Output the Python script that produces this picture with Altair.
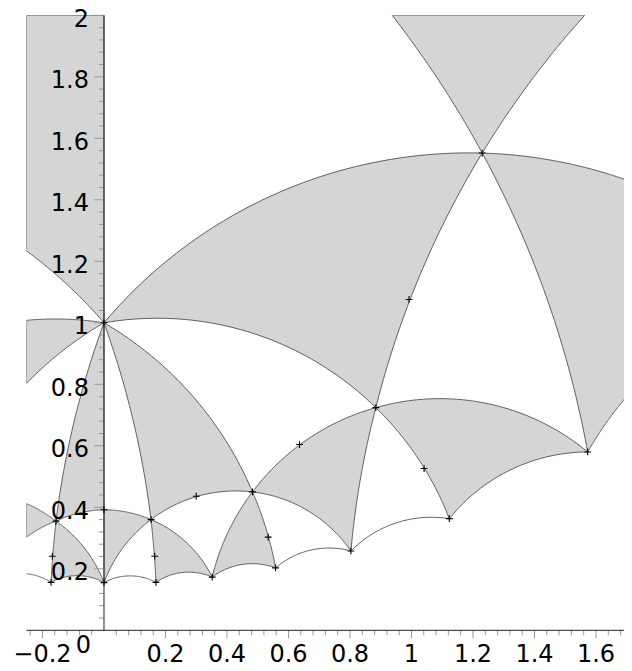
import altair as alt
import numpy as np
import pandas as pd

# ---- view ----
XMIN, XMAX = -0.252, 1.6911
YMIN, YMAX = 0.0, 2.0
PX = 307.5  # pixels per unit (same on both axes)

# ---- vertices of the tessellation ----
vertex_names = ["A", "B", "C", "D", "E", "F", "G", "H", "I", "J", "K", "L", "M", "N", "Q"]
vertex_x = [0.0, 1.230, 0.884, 1.573, 0.483, 0.803, 1.123, 0.558, 0.352, 0.153, 0.0, 0.169, -0.172, -0.156, 0.0]
vertex_y = [1.0, 1.552, 0.724, 0.580, 0.450, 0.258, 0.363, 0.203, 0.173, 0.360, 0.155, 0.156, 0.156, 0.355, 0.392]

# points where edges leave the frame
frame_names = ["L1", "L2", "L3", "L4", "L5", "L6", "TL", "T1", "T2", "TR0", "R1", "R2"]
frame_x = [-0.252, -0.252, -0.252, -0.252, -0.252, -0.252, -0.252, 0.937, 1.563, 0.0, 1.717, 1.717]
frame_y = [1.234, 1.008, 0.803, 0.412, 0.303, 0.184, 2.0, 2.0, 2.0, 2.0, 1.458, 0.780]

# gray tiles: vertex sequence, edge kind to the next vertex ("g" geodesic, "s" straight frame edge)
tile_vertices = [
    ["TL", "TR0", "A", "L1"],
    ["L2", "A", "L3"],
    ["A", "N", "Q"],
    ["L4", "N", "L5"],
    ["N", "M", "K"],
    ["Q", "J", "K"],
    ["A", "J", "E"],
    ["J", "L", "I"],
    ["E", "I", "H"],
    ["E", "F", "C"],
    ["A", "B", "C"],
    ["C", "G", "D"],
    ["B", "R1", "R2", "D"],
    ["B", "T1", "T2"],
]
tile_edges = [
    ["s", "g", "g", "s"],
    ["g", "g", "s"],
    ["g", "g", "g"],
    ["g", "g", "s"],
    ["g", "g", "g"],
    ["g", "g", "g"],
    ["g", "g", "g"],
    ["g", "g", "g"],
    ["g", "g", "g"],
    ["g", "g", "g"],
    ["g", "g", "g"],
    ["g", "g", "g"],
    ["g", "s", "g", "g"],
    ["g", "s", "g"],
]
# edges lying between two white tiles
white_edges = [["M", "L6"], ["K", "L"], ["H", "F"], ["F", "G"]]

# marked points
mark_x = [0.0, 1.230, 0.884, 1.573, 0.483, 0.803, 1.123, 0.558, 0.352, 0.153, 0.0, 0.169, -0.172, -0.156,
          0.0, 0.992, 0.636, 1.041, 0.534, 0.300, 0.165, -0.168]
mark_y = [1.0, 1.552, 0.724, 0.580, 0.450, 0.258, 0.363, 0.203, 0.173, 0.360, 0.155, 0.156, 0.156, 0.355,
          0.392, 1.076, 0.604, 0.526, 0.303, 0.436, 0.241, 0.241]

# axes
y_tick_values = [0.2, 0.4, 0.6, 0.8, 1.0, 1.2, 1.4, 1.6, 1.8, 2.0]
y_tick_labels = ["0.2", "0.4", "0.6", "0.8", "1", "1.2", "1.4", "1.6", "1.8", "2"]
x_tick_values = [-0.2, 0.2, 0.4, 0.6, 0.8, 1.0, 1.2, 1.4, 1.6]
x_tick_labels = ["\u22120.2", "0.2", "0.4", "0.6", "0.8", "1", "1.2", "1.4", "1.6"]
y_minor = [round(0.04 * k, 2) for k in range(1, 51)]
x_minor = [round(0.04 * k, 2) for k in range(-6, 43)]

# ---- geometry helpers ----
pts = {n: (x, y) for n, x, y in zip(vertex_names, vertex_x, vertex_y)}
pts.update({n: (x, y) for n, x, y in zip(frame_names, frame_x, frame_y)})


def edge_points(p, q, kind, n=48):
    (x1, y1), (x2, y2) = pts[p], pts[q]
    if kind == "s" or abs(x1 - x2) < 1e-9:
        return [(x1, y1), (x2, y2)]
    c = (x2 ** 2 + y2 ** 2 - x1 ** 2 - y1 ** 2) / (2 * (x2 - x1))
    r = np.hypot(x1 - c, y1)
    t1, t2 = np.arctan2(y1, x1 - c), np.arctan2(y2, x2 - c)
    t = np.linspace(t1, t2, n)
    return list(zip(c + r * np.cos(t), r * np.sin(t)))


rows = []
for k, (vs, es) in enumerate(zip(tile_vertices, tile_edges)):
    seq = []
    for i, v in enumerate(vs):
        seg = edge_points(v, vs[(i + 1) % len(vs)], es[i])
        seq.extend(seg if not seq else seg[1:])
    for i, (x, y) in enumerate(seq):
        rows.append({"tile": k, "i": i, "x": float(x), "y": float(y)})
tiles = pd.DataFrame(rows)

rows = []
for k, (p, q) in enumerate(white_edges):
    for i, (x, y) in enumerate(edge_points(p, q, "g")):
        rows.append({"edge": k, "i": i, "x": float(x), "y": float(y)})
wedges = pd.DataFrame(rows)

marks = pd.DataFrame({"x": mark_x, "y": mark_y})


def is_major(v):
    return abs(v / 0.2 - round(v / 0.2)) < 1e-6


ylab = pd.DataFrame({"v": y_tick_values, "t": y_tick_labels, "z": 0.0})
xlab = pd.DataFrame({"v": x_tick_values, "t": x_tick_labels, "z": 0.0})
ymin_df = pd.DataFrame({"v": [v for v in y_minor if not is_major(v)]})
ymin_df["z"] = 0.0
xmin_df = pd.DataFrame({"v": [v for v in x_minor if not is_major(v)]})
xmin_df["z"] = 0.0
yaxis_df = pd.DataFrame({"x": [0.0], "y": [YMIN], "y2": [YMAX]})
xaxis_df = pd.DataFrame({"y": [0.0], "x": [XMIN], "x2": [XMAX]})
zero_df = pd.DataFrame({"x": [0.0], "y": [0.0], "t": ["0"]})

xs = alt.Scale(domain=[XMIN, XMAX], nice=False, zero=False)
ys = alt.Scale(domain=[YMIN, YMAX], nice=False, zero=False)
FONT = "DejaVu Sans"
FS = 24
X = lambda f: alt.X(f, type="quantitative", scale=xs, axis=None)
Y = lambda f: alt.Y(f, type="quantitative", scale=ys, axis=None)

tile_layer = alt.Chart(tiles).mark_line(
    fill="#d5d5d5", stroke="#5e5e5e", strokeWidth=1, clip=True, strokeJoin="round"
).encode(x=X("x"), y=Y("y"), detail="tile:N", order="i:Q")

edge_layer = alt.Chart(wedges).mark_line(stroke="#5e5e5e", strokeWidth=1, clip=True).encode(
    x=X("x"), y=Y("y"), detail="edge:N", order="i:Q"
)

mark_layer = alt.Chart(marks).mark_point(
    shape="M-1,0L1,0M0,-1L0,1", size=46, color="black", strokeWidth=1.1, opacity=1, filled=False
).encode(x=X("x"), y=Y("y"))

yaxis_line = alt.Chart(yaxis_df).mark_rule(color="#222222", strokeWidth=1).encode(
    x=X("x"), y=Y("y"), y2="y2:Q"
)
xaxis_line = alt.Chart(xaxis_df).mark_rule(color="#222222", strokeWidth=1).encode(
    y=Y("y"), x=X("x"), x2="x2:Q"
)

y_minor_ticks = alt.Chart(ymin_df).mark_rule(color="#999999", strokeWidth=1, x2Offset=-5).encode(
    x=X("z"), x2="z:Q", y=Y("v")
)
y_major_ticks = alt.Chart(ylab).mark_rule(color="#999999", strokeWidth=1, x2Offset=-10).encode(
    x=X("z"), x2="z:Q", y=Y("v")
)
x_minor_ticks = alt.Chart(xmin_df).mark_rule(color="#999999", strokeWidth=1, y2Offset=5).encode(
    y=Y("z"), y2="z:Q", x=X("v")
)
x_major_ticks = alt.Chart(xlab).mark_rule(color="#999999", strokeWidth=1, y2Offset=8).encode(
    y=Y("z"), y2="z:Q", x=X("v")
)

y_labels = alt.Chart(ylab).mark_text(
    align="right", baseline="alphabetic", dx=-15, dy=11.5, font=FONT, fontSize=FS, color="black"
).encode(x=X("z"), y=Y("v"), text="t:N")
x_labels = alt.Chart(xlab).mark_text(
    align="center", baseline="alphabetic", dy=31.5, font=FONT, fontSize=FS, color="black"
).encode(y=Y("z"), x=X("v"), text="t:N")
zero_label = alt.Chart(zero_df).mark_text(
    align="center", baseline="alphabetic", dx=-20.5, dy=23, font=FONT, fontSize=FS, color="black"
).encode(x=X("x"), y=Y("y"), text="t:N")

W = (XMAX - XMIN) * PX
H = (YMAX - YMIN) * PX

chart = alt.layer(
    tile_layer, edge_layer, y_minor_ticks, y_major_ticks, x_minor_ticks, x_major_ticks,
    yaxis_line, xaxis_line, mark_layer, y_labels, x_labels, zero_label,
).properties(
    width=W, height=H,
    padding={"left": 18.5, "top": 7.3, "right": 0, "bottom": 32},
    autosize=alt.AutoSizeParams(type="none"),
    background="white",
).configure_view(strokeWidth=0)

chart.save("out.html", embed_options={"renderer": "svg", "actions": False})
